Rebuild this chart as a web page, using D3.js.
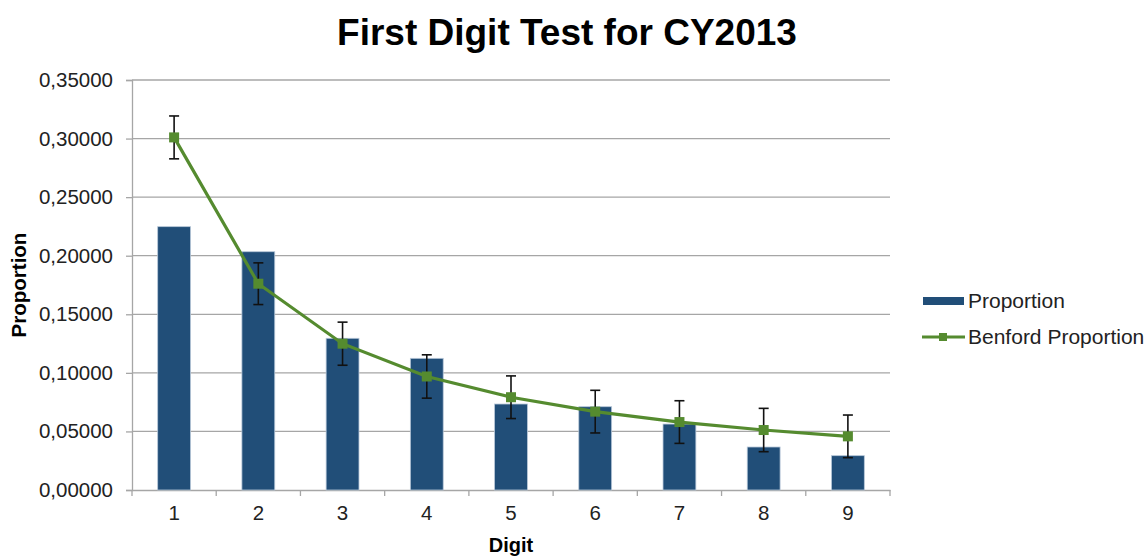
<!DOCTYPE html>
<html>
<head>
<meta charset="utf-8">
<script src="https://cdn.jsdelivr.net/npm/d3@7"></script>
<style>
  body { margin: 0; background: #fff; }
  text { font-family: "Liberation Sans", Arial, sans-serif; }
</style>
</head>
<body>
<div id="chart"></div>
<script>
var digits = ["1", "2", "3", "4", "5", "6", "7", "8", "9"];
var proportion = [0.2248, 0.2034, 0.1295, 0.1124, 0.0734, 0.0711, 0.0563, 0.0367, 0.0293];
var benford = [0.3010, 0.1761, 0.1249, 0.0969, 0.0792, 0.0669, 0.0580, 0.0512, 0.0458];
var benfordError = [0.0183, 0.0178, 0.0184, 0.0185, 0.0182, 0.0182, 0.0182, 0.0185, 0.0182];
var yTicks = [0, 0.05, 0.10, 0.15, 0.20, 0.25, 0.30, 0.35];

var width = 1148, height = 556;
var plotLeft = 132, plotRight = 890, plotTop = 80, plotBottom = 490;

var svg = d3.select('#chart').append('svg')
    .attr('width', width)
    .attr('height', height);

var x = d3.scaleBand()
    .domain(digits)
    .range([plotLeft, plotRight])
    .paddingInner(0.61)
    .paddingOuter(0.305);

var y = d3.scaleLinear()
    .domain([0, 0.35])
    .range([plotBottom, plotTop]);

// gridlines
svg.append('g').selectAll('line')
    .data(yTicks.slice(1))
    .enter().append('line')
    .attr('x1', plotLeft).attr('x2', plotRight)
    .attr('y1', function (d) { return y(d); })
    .attr('y2', function (d) { return y(d); })
    .attr('stroke', '#a6a6a6')
    .attr('stroke-width', 1.3);

// y axis
var yAxis = svg.append('g')
    .attr('transform', 'translate(' + plotLeft + ',0)')
    .call(d3.axisLeft(y)
        .tickValues(yTicks)
        .tickSize(6)
        .tickPadding(13)
        .tickFormat(function (d) { return d3.format('.5f')(d).replace('.', ','); }));
yAxis.select('.domain').attr('stroke', '#a6a6a6').attr('stroke-width', 1.3);
yAxis.selectAll('.tick line').attr('stroke', '#a6a6a6').attr('stroke-width', 1.3);
yAxis.selectAll('.tick text')
    .attr('font-size', 20.5)
    .attr('fill', '#222')
    .style('font-family', '"Liberation Sans", Arial, sans-serif');

// x axis
var xAxis = svg.append('g')
    .attr('transform', 'translate(0,' + plotBottom + ')')
    .call(d3.axisBottom(x).tickSize(0).tickSizeOuter(0).tickPadding(15));
xAxis.select('.domain').attr('stroke', '#a6a6a6').attr('stroke-width', 1.3);
xAxis.selectAll('.tick text')
    .attr('font-size', 20.5)
    .attr('fill', '#222')
    .style('font-family', '"Liberation Sans", Arial, sans-serif');

// boundary ticks between categories
var bounds = digits.map(function (d) { return x(d) - x.step() * x.paddingInner() / 2; });
bounds.push(plotRight);
svg.append('g').selectAll('line')
    .data(bounds)
    .enter().append('line')
    .attr('x1', function (d) { return d; })
    .attr('x2', function (d) { return d; })
    .attr('y1', plotBottom)
    .attr('y2', plotBottom + 6)
    .attr('stroke', '#a6a6a6')
    .attr('stroke-width', 1.3);

// bars
svg.append('g').selectAll('rect')
    .data(proportion)
    .enter().append('rect')
    .attr('x', function (d, i) { return x(digits[i]); })
    .attr('y', function (d) { return y(d); })
    .attr('width', x.bandwidth())
    .attr('height', function (d) { return plotBottom - y(d); })
    .attr('fill', '#214e78')
    .attr('stroke', '#b7c7d8')
    .attr('stroke-width', 0.8);

// benford line
var cx = function (i) { return x(digits[i]) + x.bandwidth() / 2; };
var line = d3.line()
    .x(function (d, i) { return cx(i); })
    .y(function (d) { return y(d); });

svg.append('path')
    .datum(benford)
    .attr('d', line)
    .attr('fill', 'none')
    .attr('stroke', '#558b2f')
    .attr('stroke-width', 3.2);

// error bars
var eb = svg.append('g').selectAll('g')
    .data(benford)
    .enter().append('g')
    .attr('stroke', '#111')
    .attr('stroke-width', 1.6);
eb.append('line')
    .attr('x1', function (d, i) { return cx(i); })
    .attr('x2', function (d, i) { return cx(i); })
    .attr('y1', function (d, i) { return y(d + benfordError[i]); })
    .attr('y2', function (d, i) { return y(d - benfordError[i]); });
eb.append('line')
    .attr('x1', function (d, i) { return cx(i) - 5; })
    .attr('x2', function (d, i) { return cx(i) + 5; })
    .attr('y1', function (d, i) { return y(d + benfordError[i]); })
    .attr('y2', function (d, i) { return y(d + benfordError[i]); });
eb.append('line')
    .attr('x1', function (d, i) { return cx(i) - 5; })
    .attr('x2', function (d, i) { return cx(i) + 5; })
    .attr('y1', function (d, i) { return y(d - benfordError[i]); })
    .attr('y2', function (d, i) { return y(d - benfordError[i]); });

// markers
svg.append('g').selectAll('rect')
    .data(benford)
    .enter().append('rect')
    .attr('x', function (d, i) { return cx(i) - 5; })
    .attr('y', function (d) { return y(d) - 5; })
    .attr('width', 10)
    .attr('height', 10)
    .attr('fill', '#558b2f');

// title and axis titles
svg.append('text')
    .attr('x', 567)
    .attr('y', 45)
    .attr('text-anchor', 'middle')
    .attr('font-size', 37)
    .attr('font-weight', 'bold')
    .text('First Digit Test for CY2013');

svg.append('text')
    .attr('x', (plotLeft + plotRight) / 2)
    .attr('y', 552)
    .attr('text-anchor', 'middle')
    .attr('font-size', 20)
    .attr('font-weight', 'bold')
    .text('Digit');

svg.append('text')
    .attr('transform', 'translate(26,' + (plotTop + plotBottom) / 2 + ') rotate(-90)')
    .attr('text-anchor', 'middle')
    .attr('font-size', 20.5)
    .attr('font-weight', 'bold')
    .text('Proportion');

// legend
var legend = svg.append('g');
legend.append('rect')
    .attr('x', 923).attr('y', 297)
    .attr('width', 41).attr('height', 8)
    .attr('fill', '#214e78');
legend.append('text')
    .attr('x', 968).attr('y', 308)
    .attr('font-size', 21)
    .attr('fill', '#222')
    .text('Proportion');
legend.append('line')
    .attr('x1', 922).attr('x2', 965)
    .attr('y1', 337).attr('y2', 337)
    .attr('stroke', '#558b2f')
    .attr('stroke-width', 3.2);
legend.append('rect')
    .attr('x', 939).attr('y', 333)
    .attr('width', 8).attr('height', 8)
    .attr('fill', '#558b2f');
legend.append('text')
    .attr('x', 968).attr('y', 344)
    .attr('font-size', 21)
    .attr('fill', '#222')
    .text('Benford Proportion');
</script>
</body>
</html>
